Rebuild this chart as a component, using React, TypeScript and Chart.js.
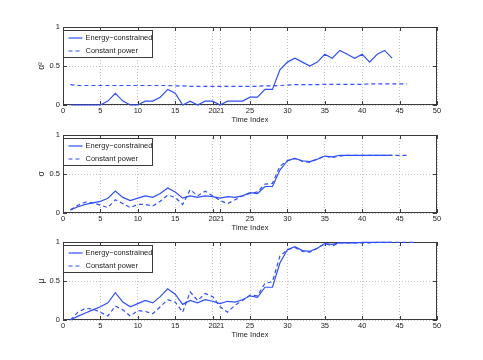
import React, { useEffect, useRef } from "react";
import { Chart, registerables } from "chart.js";
Chart.register(...registerables);

const xTicks = [0, 5, 10, 15, 20, 21, 25, 30, 35, 40, 45, 50];
const yTicks = [0, 0.5, 1];
const legendLabels = ["Energy\u2212constrained", "Constant power"];
const xTitle = "Time Index";
const yTitles = ["\u03b1\u00b2", "\u03c3", "\u03bc"];

const alphaEnergy = [0, 0, 0, 0, 0, 0.05, 0.15, 0.05, 0, 0,
  0.05, 0.05, 0.1, 0.2, 0.15, 0, 0.05, 0, 0.05, 0.05,
  0, 0.05, 0.05, 0.05, 0.1, 0.1, 0.2, 0.2, 0.45, 0.55,
  0.6, 0.55, 0.5, 0.55, 0.65, 0.6, 0.7, 0.65, 0.6, 0.65,
  0.55, 0.65, 0.7, 0.6];
const alphaConst = [0.26, 0.25, 0.25, 0.25, 0.25, 0.25, 0.25, 0.25, 0.25, 0.25,
  0.25, 0.25, 0.25, 0.25, 0.245, 0.245, 0.24, 0.24, 0.24, 0.24,
  0.24, 0.24, 0.24, 0.24, 0.24, 0.24, 0.245, 0.245, 0.25, 0.255,
  0.26, 0.26, 0.26, 0.26, 0.265, 0.265, 0.265, 0.265, 0.265, 0.265,
  0.27, 0.27, 0.27, 0.27, 0.27, 0.27];
const sigmaEnergy = [0.04, 0.08, 0.11, 0.13, 0.15, 0.19, 0.28, 0.2, 0.16, 0.19,
  0.22, 0.2, 0.25, 0.32, 0.27, 0.19, 0.22, 0.2, 0.22, 0.21,
  0.19, 0.21, 0.2, 0.22, 0.26, 0.25, 0.34, 0.34, 0.55, 0.67,
  0.7, 0.67, 0.66, 0.69, 0.73, 0.72, 0.74, 0.74, 0.74, 0.74,
  0.74, 0.74, 0.74, 0.74];
const sigmaConst = [0.04, 0.1, 0.14, 0.13, 0.1, 0.07, 0.17, 0.12, 0.07, 0.11,
  0.11, 0.09, 0.15, 0.23, 0.2, 0.11, 0.3, 0.22, 0.28, 0.22,
  0.16, 0.12, 0.17, 0.22, 0.25, 0.27, 0.37, 0.38, 0.6, 0.67,
  0.7, 0.66, 0.65, 0.69, 0.73, 0.71, 0.73, 0.74, 0.74, 0.74,
  0.74, 0.74, 0.74, 0.74, 0.74, 0.74];
const muEnergy = [0, 0.05, 0.09, 0.13, 0.17, 0.22, 0.35, 0.23, 0.17, 0.21,
  0.25, 0.22, 0.3, 0.4, 0.33, 0.2, 0.25, 0.22, 0.26, 0.24,
  0.21, 0.24, 0.23, 0.26, 0.31, 0.29, 0.42, 0.42, 0.73, 0.9,
  0.94, 0.89, 0.88, 0.92, 0.98, 0.97, 0.99, 0.99, 0.99, 0.995,
  0.995, 0.995, 0.995, 0.995];
const muConst = [0, 0.1, 0.15, 0.14, 0.1, 0.05, 0.18, 0.13, 0.05, 0.12,
  0.11, 0.08, 0.17, 0.26, 0.23, 0.1, 0.36, 0.25, 0.34, 0.3,
  0.17, 0.1, 0.19, 0.25, 0.32, 0.31, 0.47, 0.49, 0.82, 0.9,
  0.93, 0.88, 0.87, 0.92, 0.98, 0.95, 0.99, 0.99, 0.99, 0.99,
  0.99, 0.995, 0.995, 0.995, 0.995, 0.995, 0.995];

const panels = [
  { energy: alphaEnergy, constant: alphaConst, yTitle: yTitles[0], top: 0 },
  { energy: sigmaEnergy, constant: sigmaConst, yTitle: yTitles[1], top: 108 },
  { energy: muEnergy, constant: muConst, yTitle: yTitles[2], top: 215 },
];

const FONT = '"Liberation Sans", Arial, Helvetica, sans-serif';
const FS = 7.5;
const BLUE = "#2e4fff";
const AXIS = "#3a3a3a";

const decor = {
  id: "decor",
  beforeDatasetsDraw(chart: any) {
    const { ctx, chartArea, scales } = chart;
    const { left, right, top, bottom } = chartArea;
    const x = scales.x;
    const y = scales.y;
    ctx.save();
    ctx.strokeStyle = AXIS;
    ctx.lineWidth = 1;
    ctx.setLineDash([]);
    ctx.strokeRect(left + 0.5, top + 0.5, right - left - 1, bottom - top - 1);
    ctx.beginPath();
    xTicks.forEach((v) => {
      const px = Math.round(x.getPixelForValue(v)) + 0.5;
      ctx.moveTo(px, bottom);
      ctx.lineTo(px, bottom - 4);
      ctx.moveTo(px, top);
      ctx.lineTo(px, top + 4);
    });
    yTicks.forEach((v) => {
      const py = Math.round(y.getPixelForValue(v)) + 0.5;
      ctx.moveTo(left, py);
      ctx.lineTo(left + 4, py);
      ctx.moveTo(right, py);
      ctx.lineTo(right - 4, py);
    });
    ctx.stroke();
    ctx.restore();
  },
  afterDraw(chart: any, _args: any, opts: any) {
    const { ctx, chartArea } = chart;
    const { left, right, top, bottom } = chartArea;
    ctx.save();
    // legend
    const lx = left + 0.5;
    const ly = top + 3.5;
    const lw = 89;
    const lh = 27;
    ctx.fillStyle = "#ffffff";
    ctx.fillRect(lx, ly, lw, lh);
    ctx.strokeStyle = AXIS;
    ctx.lineWidth = 1;
    ctx.setLineDash([]);
    ctx.strokeRect(lx, ly, lw, lh);
    ctx.font = `${FS}px ${FONT}`;
    ctx.textBaseline = "middle";
    ctx.textAlign = "left";
    chart.data.datasets.forEach((ds: any, i: number) => {
      const yy = ly + 7.5 + i * 13;
      ctx.strokeStyle = ds.borderColor;
      ctx.lineWidth = ds.borderWidth;
      ctx.setLineDash(ds.borderDash || []);
      ctx.beginPath();
      ctx.moveTo(lx + 5, yy);
      ctx.lineTo(lx + 19, yy);
      ctx.stroke();
      ctx.setLineDash([]);
      ctx.fillStyle = "#222";
      ctx.fillText(legendLabels[i], lx + 22, yy);
    });
    // titles
    ctx.fillStyle = "#222";
    ctx.font = `${FS}px ${FONT}`;
    ctx.textAlign = "center";
    ctx.textBaseline = "middle";
    ctx.fillText(xTitle, (left + right) / 2, bottom + 14.5);
    ctx.save();
    ctx.translate(42, (top + bottom) / 2);
    ctx.rotate(-Math.PI / 2);
    ctx.font = `8.5px ${FONT}`;
    ctx.fillText(opts.yTitle, 0, 0);
    ctx.restore();
    ctx.restore();
  },
};

function Panel({ energy, constant, yTitle, top }: any) {
  const ref = useRef<HTMLCanvasElement | null>(null);
  useEffect(() => {
    if (!ref.current) return;
    const chart = new Chart(ref.current, {
      type: "line",
      data: {
        datasets: [
          {
            label: legendLabels[0],
            data: energy.map((v: number, i: number) => ({ x: i + 1, y: v })),
            borderColor: BLUE,
            borderWidth: 1.2,
            pointRadius: 0,
            tension: 0,
            fill: false,
            clip: 4,
          },
          {
            label: legendLabels[1],
            data: constant.map((v: number, i: number) => ({ x: i + 1, y: v })),
            borderColor: BLUE,
            borderWidth: 1.2,
            borderDash: [4, 3],
            pointRadius: 0,
            tension: 0,
            fill: false,
            clip: 4,
          },
        ],
      },
      options: {
        animation: false,
        responsive: false,
        devicePixelRatio: 1,
        layout: { padding: { top: 27, right: 46, bottom: 0, left: 0 } },
        plugins: {
          legend: { display: false },
          tooltip: { enabled: false },
          decor: { yTitle },
        } as any,
        scales: {
          x: {
            type: "linear",
            min: 0,
            max: 50,
            afterBuildTicks: (s: any) => {
              s.ticks = xTicks.map((v) => ({ value: v }));
            },
            afterFit: (s: any) => {
              s.height = 20;
            },
            ticks: {
              autoSkip: false,
              maxRotation: 0,
              padding: 1.5,
              color: "#222",
              font: { family: FONT, size: FS },
              callback: (v: any) => String(v),
            },
            grid: { color: "#c4c4c4", drawTicks: false, lineWidth: 1 },
            border: { display: false, dash: [1, 2] },
          },
          y: {
            type: "linear",
            min: 0,
            max: 1,
            afterBuildTicks: (s: any) => {
              s.ticks = yTicks.map((v) => ({ value: v }));
            },
            afterFit: (s: any) => {
              s.width = 63;
            },
            ticks: {
              padding: 3,
              color: "#222",
              font: { family: FONT, size: FS },
              callback: (v: any) => String(v),
            },
            grid: { color: "#c4c4c4", drawTicks: false, lineWidth: 1 },
            border: { display: false, dash: [1, 2] },
          },
        },
      },
      plugins: [decor],
    });
    return () => chart.destroy();
  }, [energy, constant, yTitle]);
  return (
    <canvas
      ref={ref}
      width={483}
      height={125}
      style={{ position: "absolute", left: 0, top, width: 483, height: 125 }}
    />
  );
}

export default function App() {
  return (
    <div
      style={{
        position: "absolute",
        left: 0,
        top: 0,
        width: 483,
        height: 360,
        background: "#ffffff",
        overflow: "hidden",
      }}
    >
      {panels.map((p, i) => (
        <Panel key={i} {...p} />
      ))}
    </div>
  );
}
